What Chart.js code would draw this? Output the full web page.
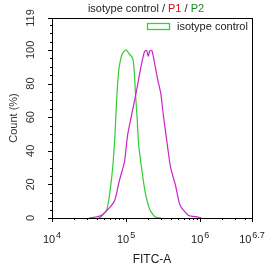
<!DOCTYPE html>
<html>
<head>
<meta charset="utf-8">
<script src="https://cdn.jsdelivr.net/npm/chart.js@4"></script>
<style>
  html, body { margin: 0; padding: 0; background: #fff; }
</style>
</head>
<body>
<canvas id="histChart" width="266" height="269"></canvas>
<script>
// FITC-A in decades (log10), counts in % of max
const isotypeLog = [4.63, 4.66, 4.74, 4.78, 4.82, 4.85, 4.87, 4.90, 4.93, 4.95, 5.00, 5.04, 5.09, 5.11, 5.13, 5.15, 5.17, 5.22, 5.26, 5.32, 5.39, 5.47];
const isotypeCount = [0, 0.6, 5.1, 14.9, 30.3, 49.2, 68.1, 87.5, 95.0, 97.8, 100, 97.8, 95.0, 87.5, 72.1, 58.9, 43.5, 26.3, 14.9, 5.1, 0.6, 0];

const sampleLog = [4.50, 4.59, 4.67, 4.78, 4.85, 4.91, 4.98, 5.02, 5.09, 5.15, 5.19, 5.24, 5.26, 5.28, 5.30, 5.32, 5.35, 5.39, 5.43, 5.47, 5.50, 5.54, 5.60, 5.67, 5.73, 5.84, 5.97, 6.02];
const sampleCount = [0, 0.6, 1.7, 6.3, 10.9, 22.3, 33.7, 49.2, 64.6, 77.8, 87.5, 97.8, 99.5, 99.5, 96.1, 99.5, 99.5, 90.9, 81.8, 73.8, 62.3, 49.2, 30.3, 18.9, 7.4, 1.7, 0.6, 0];

const xTickExps = ['4', '5', '6', '6.7'];
const yTicks = [0, 20, 40, 60, 80, 100, 119];

const toPoints = (logs, counts) => logs.map((v, i) => ({ x: Math.pow(10, v), y: counts[i] }));

const FONT = '"Liberation Sans", Arial, sans-serif';

// Axes, ticks, labels and legend drawn against the chart's scales
const decorPlugin = {
    id: 'decor',
    afterDraw(chart) {
        const ctx = chart.ctx;
        const area = chart.chartArea;
        const xs = chart.scales.x;
        const ys = chart.scales.y;
        ctx.save();
        ctx.strokeStyle = '#000';
        ctx.lineWidth = 1;
        ctx.strokeRect(Math.round(area.left) + 0.5, Math.round(area.top) + 0.5,
            Math.round(area.right - area.left), Math.round(area.bottom - area.top));

        // x ticks (log minors)
        ctx.beginPath();
        for (let d = 4; d <= 6; d++) {
            for (let m = 1; m <= 9; m++) {
                const v = m * Math.pow(10, d);
                if (v > xs.max) break;
                const px = Math.round(xs.getPixelForValue(v)) + 0.5;
                const len = m === 1 ? 4 : 2;
                ctx.moveTo(px, area.bottom);
                ctx.lineTo(px, area.bottom + len);
            }
        }
        const pxEnd = Math.round(xs.getPixelForValue(xs.max)) + 0.5;
        ctx.moveTo(pxEnd, area.bottom);
        ctx.lineTo(pxEnd, area.bottom + 4);
        // y ticks
        for (let v = 0; v <= 119; v += 5) {
            const py = Math.round(ys.getPixelForValue(v)) + 0.5;
            const len = v % 20 === 0 ? 4 : 2;
            ctx.moveTo(area.left, py);
            ctx.lineTo(area.left - len, py);
        }
        const pyTop = Math.round(ys.getPixelForValue(119)) + 0.5;
        ctx.moveTo(area.left, pyTop);
        ctx.lineTo(area.left - 4, pyTop);
        ctx.stroke();

        // x tick labels with superscripts
        ctx.fillStyle = '#222';
        ctx.textBaseline = 'alphabetic';
        ctx.textAlign = 'left';
        xTickExps.forEach(e => {
            const px = xs.getPixelForValue(Math.pow(10, parseFloat(e)));
            ctx.font = '11px ' + FONT;
            const wb = ctx.measureText('10').width;
            ctx.font = '9px ' + FONT;
            const we = ctx.measureText(e).width;
            const x0 = px - (wb + 1 + we) / 2;
            ctx.font = '11px ' + FONT;
            ctx.fillText('10', x0, 243);
            ctx.font = '9px ' + FONT;
            ctx.fillText(e, x0 + wb + 1, 238);
        });

        // y tick labels, rotated
        ctx.font = '11px ' + FONT;
        ctx.fillStyle = '#333';
        ctx.textAlign = 'center';
        yTicks.forEach(v => {
            const py = ys.getPixelForValue(v);
            ctx.save();
            ctx.translate(34, py);
            ctx.rotate(-Math.PI / 2);
            ctx.fillText(String(v), 0, 0);
            ctx.restore();
        });

        // axis titles
        ctx.save();
        ctx.translate(17, (area.top + area.bottom) / 2);
        ctx.rotate(-Math.PI / 2);
        ctx.fillText('Count (%)', 0, 0);
        ctx.restore();
        ctx.fillStyle = '#222';
        ctx.font = '12px ' + FONT;
        ctx.fillText('FITC-A', (area.left + area.right) / 2, 263);

        // title with coloured parts
        ctx.font = '11px ' + FONT;
        const parts = [['isotype control / ', '#222'], ['P1', '#d01010'], [' / ', '#222'], ['P2', '#1a8a1a']];
        const total = parts.reduce((s, p) => s + ctx.measureText(p[0]).width, 0);
        let tx = 146 - total / 2;
        ctx.textAlign = 'left';
        parts.forEach(p => {
            ctx.fillStyle = p[1];
            ctx.fillText(p[0], tx, 12);
            tx += ctx.measureText(p[0]).width;
        });

        // legend
        ctx.lineWidth = 1.3;
        ctx.strokeStyle = '#22dd22';
        ctx.strokeRect(147.5, 23.5, 22, 6);
        ctx.fillStyle = '#222';
        ctx.fillText('isotype control', 177, 30);
        ctx.restore();
    }
};

new Chart(document.getElementById('histChart'), {
    type: 'line',
    data: {
        datasets: [
            {
                label: 'P1',
                data: toPoints(sampleLog, sampleCount),
                borderColor: '#cc22cc',
                borderWidth: 1.2,
                pointRadius: 0,
                tension: 0.2,
                fill: false
            },
            {
                label: 'isotype control',
                data: toPoints(isotypeLog, isotypeCount),
                borderColor: '#33cc33',
                borderWidth: 1.2,
                pointRadius: 0,
                tension: 0.2,
                fill: false
            }
        ]
    },
    options: {
        responsive: false,
        animation: false,
        layout: { padding: { left: 44, right: 14, top: 18, bottom: 43 } },
        plugins: {
            legend: { display: false },
            tooltip: { enabled: false }
        },
        scales: {
            x: {
                type: 'logarithmic',
                min: 1e4,
                max: Math.pow(10, 6.7),
                grid: { display: false },
                border: { display: false },
                ticks: { display: false }
            },
            y: {
                type: 'linear',
                min: 0,
                max: 119,
                grid: { display: false },
                border: { display: false },
                ticks: { display: false }
            }
        }
    },
    plugins: [decorPlugin]
});
</script>
</body>
</html>
